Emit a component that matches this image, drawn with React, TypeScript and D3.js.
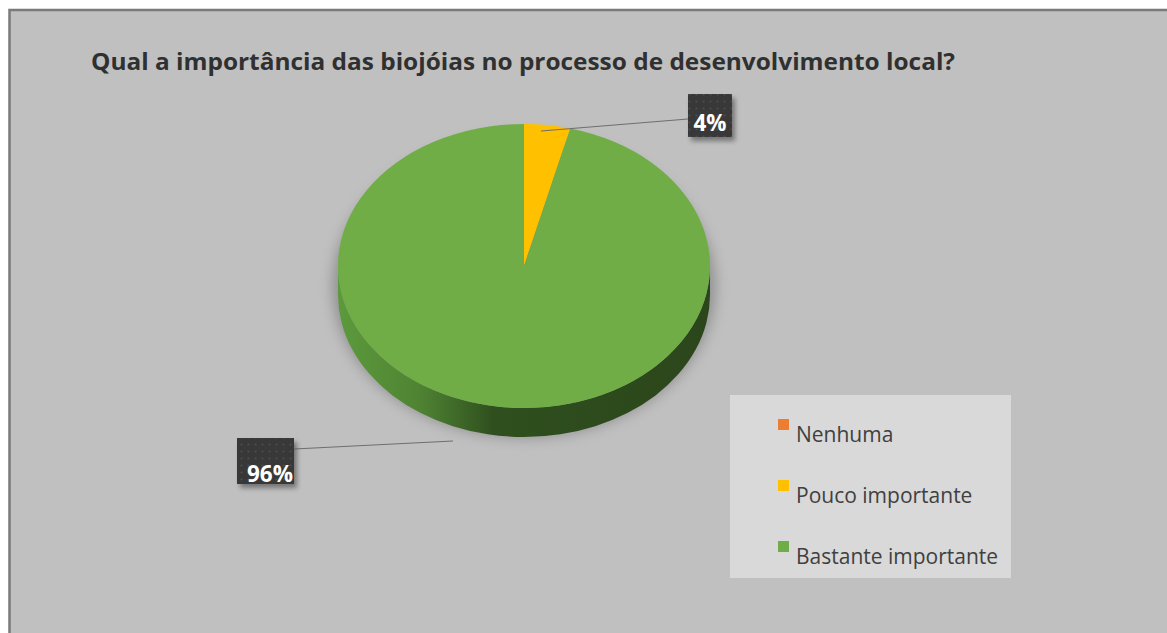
import * as d3 from "d3"

const categories = ["Nenhuma", "Pouco importante", "Bastante importante"]
const values = [0, 4, 96]
const colors = ["#ED7D31", "#FFC000", "#70AD47"]
const labelText = ["", "4%", "96%"]
const title = "Qual a importância das biojóias no processo de desenvolvimento local?"

const width = 1167
const height = 633
const cx = 524
const cy = 266
const rx = 186
const ry = 142
const depth = 29

const pt = (a: number, dy = 0): [number, number] => [cx + rx * Math.sin(a), cy - ry * Math.cos(a) + dy]

export default function App() {
  const pie = d3
    .pie<number>()
    .sort(null)
    .startAngle(0)
    .endAngle(2 * Math.PI)(values)

  const arc = d3.arc<d3.PieArcDatum<number>>().innerRadius(0).outerRadius(rx)

  // side walls on the visible front half
  const sides = pie
    .map((d, i) => {
      const a0 = Math.max(d.startAngle, Math.PI / 2)
      const a1 = Math.min(d.endAngle, (3 * Math.PI) / 2)
      if (a1 <= a0) return null
      const p0 = pt(a0)
      const p1 = pt(a1)
      const path = `M${p0[0]},${p0[1]} A${rx},${ry} 0 0 1 ${p1[0]},${p1[1]} L${p1[0]},${p1[1] + depth} A${rx},${ry} 0 0 0 ${p0[0]},${p0[1] + depth} Z`
      return { i, path }
    })
    .filter((s) => s !== null) as { i: number; path: string }[]

  // data labels: box position and leader start
  const labels = [
    null,
    { bx: 688, by: 94, bw: 44, bh: 43, tx: 710, ty: 131, lx1: 541, ly1: 131, lx2: 688, ly2: 119 },
    { bx: 237, by: 438, bw: 57, bh: 46, tx: 270, ty: 482, lx1: 453, ly1: 441, lx2: 294, ly2: 449 },
  ]

  return (
    <svg
      width={width}
      height={height}
      style={{ position: "absolute", left: 0, top: 0, display: "block" }}
      fontFamily="'Open Sans', 'Noto Sans', sans-serif"
    >
      <defs>
        <linearGradient id="sideGrad" x1={cx - rx} x2={cx + rx} y1={0} y2={0} gradientUnits="userSpaceOnUse">
          <stop offset="0" stopColor="#5c9a3c" />
          <stop offset="0.22" stopColor="#4f8333" />
          <stop offset="0.42" stopColor="#2f4f1e" />
          <stop offset="1" stopColor="#2b461b" />
        </linearGradient>
        <filter id="blur" x="-20%" y="-20%" width="140%" height="140%">
          <feGaussianBlur stdDeviation="7" />
        </filter>
        <filter id="boxShadow" x="-30%" y="-30%" width="160%" height="160%">
          <feGaussianBlur stdDeviation="2.5" />
        </filter>
        <pattern id="dots" width="7" height="7" patternUnits="userSpaceOnUse">
          <rect width="7" height="7" fill="#383838" />
          <circle cx="3.5" cy="3.5" r="1.1" fill="#4c4c4c" />
        </pattern>
      </defs>

      <rect x={0} y={0} width={width} height={height} fill="#ffffff" />
      <rect x={9.5} y={10} width={width + 20} height={height + 20} fill="#c0c0c0" stroke="#7a7a7a" strokeWidth={2.5} />

      <text
        x={91}
        y={70}
        fontSize={24}
        fontWeight="bold"
        fill="#303030"
        textLength={864}
        lengthAdjust="spacingAndGlyphs"
      >
        {title}
      </text>

      {/* pie shadow */}
      <ellipse cx={cx} cy={cy + depth / 2 + 6} rx={rx + 5} ry={ry + 9} fill="#858585" opacity={0.85} filter="url(#blur)" />

      {sides.map((s) => (
        <path key={"s" + s.i} d={s.path} fill={s.i === 2 ? "url(#sideGrad)" : colors[s.i]} />
      ))}

      <g transform={`translate(${cx},${cy}) scale(1,${ry / rx})`}>
        {pie.map((d, i) =>
          d.endAngle > d.startAngle ? <path key={i} d={arc(d) ?? undefined} fill={colors[i]} /> : null
        )}
      </g>

      {labels.map((l, i) =>
        l ? (
          <g key={"l" + i}>
            <line x1={l.lx1} y1={l.ly1} x2={l.lx2} y2={l.ly2} stroke="#6e6e6e" strokeWidth={1.2} />
            <rect x={l.bx + 3} y={l.by + 4} width={l.bw} height={l.bh} fill="#555" opacity={0.7} filter="url(#boxShadow)" />
            <rect x={l.bx} y={l.by} width={l.bw} height={l.bh} fill="url(#dots)" />
            <text
              x={l.tx}
              y={l.ty}
              textAnchor="middle"
              fontSize={23}
              fontWeight="bold"
              fill="#ffffff"
              textLength={labelText[i].length > 2 ? 46 : 33}
              lengthAdjust="spacingAndGlyphs"
            >
              {labelText[i]}
            </text>
          </g>
        ) : null
      )}

      {/* legend */}
      <rect x={730} y={395} width={281} height={183} fill="#d9d9d9" />
      {categories.map((c, i) => (
        <g key={c} transform={`translate(0,${i * 61})`}>
          <rect x={778} y={419} width={11} height={11} fill={colors[i]} />
          <text x={796} y={442} fontSize={21} fill="#404040">
            {c}
          </text>
        </g>
      ))}
    </svg>
  )
}
